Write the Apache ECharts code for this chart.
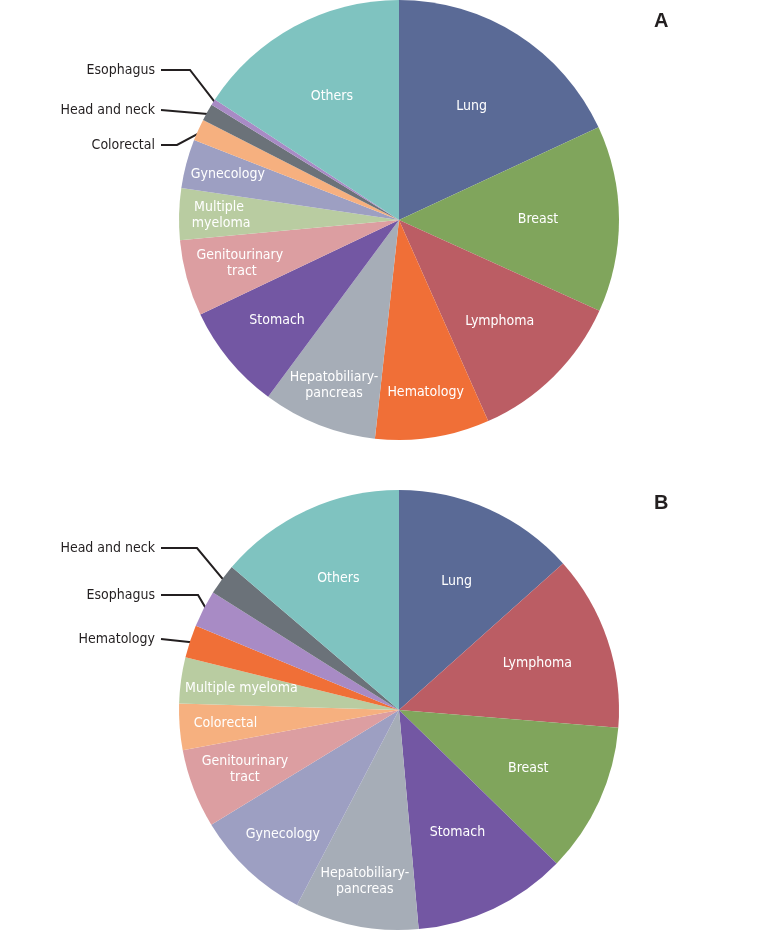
<!DOCTYPE html>
<html>
<head>
<meta charset="utf-8">
<title>Cancer type distribution</title>
<script src="https://cdn.jsdelivr.net/npm/echarts@6/dist/echarts.min.js"></script>
<style>
  html, body { margin: 0; padding: 0; background: #fff; }
  #chart { width: 778px; height: 945px; }
</style>
</head>
<body>
<div id="chart"></div>
<script>
// panel A, clockwise from 12 o'clock (% of patients)
const categoriesA = [
  "Lung", "Breast", "Lymphoma", "Hematology", "Hepatobiliary-pancreas",
  "Stomach", "Genitourinary tract", "Multiple myeloma", "Gynecology",
  "Colorectal", "Head and neck", "Esophagus", "Others",
];
const valuesA = [18.1, 13.7, 11.6, 8.4, 8.4, 7.8, 5.6, 3.8, 3.6, 1.6, 1.25, 0.45, 15.8];

// panel B
const categoriesB = [
  "Lung", "Lymphoma", "Breast", "Stomach", "Hepatobiliary-pancreas",
  "Gynecology", "Genitourinary tract", "Colorectal", "Multiple myeloma",
  "Hematology", "Esophagus", "Head and neck", "Others",
];
const valuesB = [13.4, 12.9, 11.0, 11.3, 9.1, 8.6, 5.8, 3.4, 3.4, 2.4, 2.7, 2.3, 13.75];

const colors = {
  "Lung": "#5a6a96",
  "Breast": "#80a55c",
  "Lymphoma": "#bb5d64",
  "Hematology": "#f06f37",
  "Hepatobiliary-pancreas": "#a6adb7",
  "Stomach": "#7357a3",
  "Genitourinary tract": "#dc9ea1",
  "Multiple myeloma": "#b9cca1",
  "Gynecology": "#9d9fc2",
  "Colorectal": "#f6b07f",
  "Head and neck": "#6b7279",
  "Esophagus": "#a88bc5",
  "Others": "#7fc3c0",
};

const labelTextA = {
  "Hepatobiliary-pancreas": "Hepatobiliary-\npancreas",
  "Genitourinary tract": "Genitourinary\n tract",
  "Multiple myeloma": "Multiple\n myeloma",
};
const labelTextB = {
  "Hepatobiliary-pancreas": "Hepatobiliary-\npancreas",
  "Genitourinary tract": "Genitourinary\ntract",
};

// label placement: distance from centre for inside labels,
// [y, elbow x] for the small slices labelled on the left
const insideRadiusA = {
  "Lung": 135, "Breast": 139, "Lymphoma": 143, "Hematology": 174,
  "Hepatobiliary-pancreas": 178, "Stomach": 158, "Genitourinary tract": 165,
  "Multiple myeloma": 180, "Gynecology": 177, "Others": 141,
};
const outsideA = { "Esophagus": [70, 190], "Head and neck": [110, null], "Colorectal": [145, 177] };

const insideRadiusB = {
  "Lung": 141, "Lymphoma": 146, "Breast": 142, "Stomach": 136,
  "Hepatobiliary-pancreas": 175, "Gynecology": 170, "Genitourinary tract": 165,
  "Colorectal": 174, "Multiple myeloma": 159, "Others": 145,
};
const outsideB = { "Head and neck": [548, 197], "Esophagus": [595, 198], "Hematology": [639, null] };

const R = 220;
const CX = 399;
const FONT = "'Liberation Sans Narrow', 'DejaVu Sans Condensed', 'Roboto', sans-serif";

function midAngles(values) {
  const total = values.reduce((a, b) => a + b, 0);
  let acc = 0;
  return values.map((v) => {
    const mid = (acc + v / 2) / total * Math.PI * 2;
    acc += v;
    return mid;
  });
}

function buildSeries(cats, vals, cy, labelText, insideR, outside) {
  const mids = midAngles(vals);
  const data = cats.map((c, i) => {
    const isOut = outside[c] !== undefined;
    return {
      name: c,
      value: vals[i],
      itemStyle: { color: colors[c] },
      label: isOut
        ? { position: "outside", color: "#231f20", align: "right" }
        : { position: "inside", color: "#fff" },
      labelLine: { show: isOut },
    };
  });
  return {
    type: "pie",
    center: [CX, cy],
    radius: [0, R],
    startAngle: 90,
    clockwise: true,
    avoidLabelOverlap: false,
    silent: true,
    data: data,
    itemStyle: { borderWidth: 0 },
    label: {
      show: true,
      fontFamily: FONT,
      fontSize: 14,
      lineHeight: 16,
      formatter: (p) => labelText[p.name] || p.name,
    },
    labelLine: {
      lineStyle: { color: "#231f20", width: 2 },
      smooth: false,
    },
    labelLayout: function (p) {
      const name = cats[p.dataIndex];
      const a = mids[p.dataIndex];
      if (outside[name]) {
        const y = outside[name][0];
        const elbow = outside[name][1];
        const ex = CX + (R - 4) * Math.sin(a);
        const ey = cy - (R - 4) * Math.cos(a);
        const pts = elbow === null
          ? [[ex, ey], [161, y]]
          : [[ex, ey], [elbow, y], [161, y]];
        return { x: 155, y: y, align: "right", verticalAlign: "middle", labelLinePoints: pts };
      }
      const r = insideR[name];
      return {
        x: CX + r * Math.sin(a),
        y: cy - r * Math.cos(a),
        align: "center",
        verticalAlign: "middle",
      };
    },
  };
}

const chart = echarts.init(document.getElementById("chart"));

chart.setOption({
  animation: false,
  title: [
    {
      text: "A",
      left: 649,
      top: 6,
      textStyle: { fontSize: 20, fontWeight: "bold", color: "#231f20", fontFamily: "'Liberation Sans', Arial, sans-serif" },
    },
    {
      text: "B",
      left: 649,
      top: 488,
      textStyle: { fontSize: 20, fontWeight: "bold", color: "#231f20", fontFamily: "'Liberation Sans', Arial, sans-serif" },
    },
  ],
  series: [
    buildSeries(categoriesA, valuesA, 220, labelTextA, insideRadiusA, outsideA),
    buildSeries(categoriesB, valuesB, 710, labelTextB, insideRadiusB, outsideB),
  ],
});
</script>
</body>
</html>
